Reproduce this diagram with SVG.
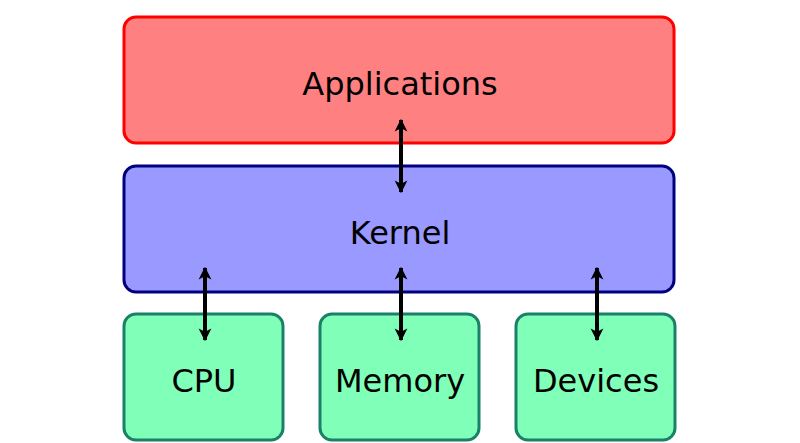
<svg xmlns="http://www.w3.org/2000/svg" width="800" height="443" viewBox="0 0 800 443">
<style>
text{font-family:"DejaVu Sans",sans-serif;font-size:32px;fill:#000;text-anchor:middle}
.hw{fill:#80ffb8;stroke:#1a8068;stroke-width:3}
.c line{stroke:#000;stroke-width:4;marker-start:url(#a);marker-end:url(#a)}
</style>
<defs><marker id="a" viewBox="0 0 10 10" refX="9" refY="5" markerWidth="3.2" markerHeight="4.5" orient="auto-start-reverse" markerUnits="strokeWidth"><path d="M0,0L10,5L0,10L2.5,5z" fill="#000"/></marker></defs>
<rect width="800" height="443" fill="#fff"/>
<g id="applications"><rect x="124" y="17" width="550" height="126" rx="12" fill="#ff8080" stroke="#ff0000" stroke-width="3"/><text x="400" y="95">Applications</text></g>
<g id="kernel"><rect x="124" y="166" width="550" height="126" rx="12" fill="#9999ff" stroke="#000080" stroke-width="3"/><text x="400" y="244">Kernel</text></g>
<g id="cpu"><rect class="hw" x="124" y="314" width="159" height="126" rx="12"/><text x="204" y="392">CPU</text></g>
<g id="memory"><rect class="hw" x="320" y="314" width="159" height="126" rx="12"/><text x="400" y="392">Memory</text></g>
<g id="devices"><rect class="hw" x="516" y="314" width="159" height="126" rx="12"/><text x="596" y="392">Devices</text></g>
<g class="c" id="connectors">
<line x1="401" y1="120" x2="401" y2="192"/>
<line x1="205" y1="268" x2="205" y2="340"/>
<line x1="401" y1="268" x2="401" y2="340"/>
<line x1="597" y1="268" x2="597" y2="340"/>
</g>
</svg>
